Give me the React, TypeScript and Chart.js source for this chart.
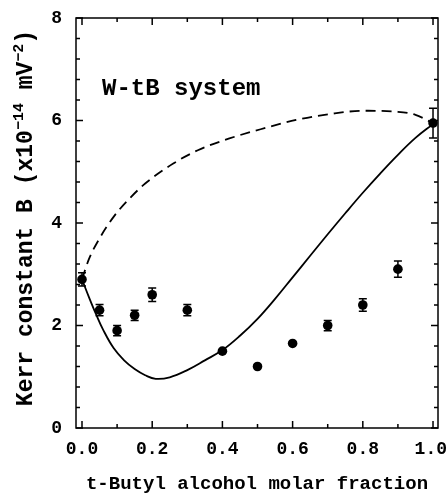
import React, { useEffect, useRef } from "react";
import { Chart, registerables } from "chart.js";

Chart.register(...registerables);

// ---- data ----
const fraction = [0, 0.05, 0.1, 0.15, 0.2, 0.3, 0.4, 0.5, 0.6, 0.7, 0.8, 0.9, 1.0];
const kerrB = [2.9, 2.3, 1.9, 2.2, 2.6, 2.3, 1.5, 1.2, 1.65, 2.0, 2.4, 3.1, 5.95];
const kerrErr = [0.13, 0.11, 0.1, 0.1, 0.13, 0.11, 0, 0, 0, 0.1, 0.12, 0.16, 0.29];

const solidX = [0, 0.02, 0.04, 0.06, 0.09, 0.12, 0.15, 0.18, 0.21, 0.25, 0.3, 0.35, 0.4, 0.45, 0.5, 0.55, 0.6, 0.65, 0.7, 0.75, 0.8, 0.85, 0.9, 0.95, 1.0];
const solidY = [2.9, 2.55, 2.22, 1.92, 1.56, 1.32, 1.15, 1.03, 0.96, 0.99, 1.13, 1.32, 1.52, 1.8, 2.13, 2.52, 2.94, 3.36, 3.78, 4.19, 4.59, 4.97, 5.33, 5.66, 5.93];

const dashX = [0, 0.02, 0.05, 0.09, 0.14, 0.18, 0.26, 0.33, 0.42, 0.52, 0.61, 0.71, 0.8, 0.9, 0.95, 1.0];
const dashY = [2.9, 3.3, 3.7, 4.12, 4.51, 4.77, 5.16, 5.42, 5.65, 5.85, 6.01, 6.13, 6.19, 6.17, 6.11, 5.95];

const xTickValues = [0, 0.2, 0.4, 0.6, 0.8, 1.0];
const xTickLabels = ["0.0", "0.2", "0.4", "0.6", "0.8", "1.0"];
const xMinorValues = [0.1, 0.3, 0.5, 0.7, 0.9];
const yTickValues = [0, 2, 4, 6, 8];
const yMinorValues = [0.4, 0.8, 1.2, 1.6, 2.4, 2.8, 3.2, 3.6, 4.4, 4.8, 5.2, 5.6, 6.4, 6.8, 7.2, 7.6];

const annotationText = "W-tB system";
const annotationPos = { x: 0.057, y: 6.5 };
const xTitle = "t-Butyl alcohol molar fraction";
const yTitleParts = [
  { t: "Kerr constant B (x10", sup: false },
  { t: "\u221214", sup: true },
  { t: " mV", sup: false },
  { t: "\u22122", sup: true },
  { t: ")", sup: false },
];

const FONT = "'Liberation Mono', 'DejaVu Sans Mono', monospace";

const decorPlugin = {
  id: "decor",
  afterDatasetsDraw(chart: any) {
    const { ctx, scales } = chart;
    const xs = scales.x;
    const ys = scales.y;
    ctx.save();
    ctx.strokeStyle = "#000";
    ctx.lineWidth = 1.5;
    fraction.forEach((fx, i) => {
      const e = kerrErr[i];
      if (!e) return;
      const px = xs.getPixelForValue(fx);
      const y1 = ys.getPixelForValue(kerrB[i] + e);
      const y2 = ys.getPixelForValue(kerrB[i] - e);
      ctx.beginPath();
      ctx.moveTo(px, y1);
      ctx.lineTo(px, y2);
      ctx.moveTo(px - 4, y1);
      ctx.lineTo(px + 4, y1);
      ctx.moveTo(px - 4, y2);
      ctx.lineTo(px + 4, y2);
      ctx.stroke();
    });
    ctx.restore();
  },
  afterDraw(chart: any) {
    const { ctx, chartArea, scales, width } = chart;
    const xs = scales.x;
    const ys = scales.y;
    const { left, right, top, bottom } = chartArea;
    ctx.save();
    ctx.strokeStyle = "#000";
    ctx.lineWidth = 1.5;
    ctx.strokeRect(left, top, right - left, bottom - top);
    ctx.beginPath();
    const xt = (v: number, len: number) => {
      const p = xs.getPixelForValue(v);
      ctx.moveTo(p, bottom);
      ctx.lineTo(p, bottom - len);
      ctx.moveTo(p, top);
      ctx.lineTo(p, top + len);
    };
    const yt = (v: number, len: number) => {
      const p = ys.getPixelForValue(v);
      ctx.moveTo(left, p);
      ctx.lineTo(left + len, p);
      ctx.moveTo(right, p);
      ctx.lineTo(right - len, p);
    };
    xTickValues.forEach((v) => xt(v, 7));
    xMinorValues.forEach((v) => xt(v, 4));
    yTickValues.forEach((v) => yt(v, 7));
    yMinorValues.forEach((v) => yt(v, 4));
    ctx.stroke();

    ctx.fillStyle = "#000";

    // x tick labels (kept inside the canvas)
    ctx.font = `bold 18px ${FONT}`;
    ctx.textAlign = "center";
    ctx.textBaseline = "middle";
    xTickValues.forEach((v, i) => {
      const w = ctx.measureText(xTickLabels[i]).width;
      const px = Math.min(xs.getPixelForValue(v), width - w / 2 - 1);
      ctx.fillText(xTickLabels[i], px, bottom + 21);
    });

    ctx.font = `bold 24px ${FONT}`;
    ctx.textAlign = "left";
    ctx.textBaseline = "alphabetic";
    ctx.fillText(annotationText, xs.getPixelForValue(annotationPos.x), ys.getPixelForValue(annotationPos.y));

    ctx.font = `bold 19px ${FONT}`;
    ctx.textAlign = "center";
    ctx.fillText(xTitle, (left + right) / 2, 489);

    const mainFont = `bold 23px ${FONT}`;
    const supFont = `bold 15px ${FONT}`;
    let total = 0;
    const widths = yTitleParts.map((p) => {
      ctx.font = p.sup ? supFont : mainFont;
      const w = ctx.measureText(p.t).width;
      total += w;
      return w;
    });
    ctx.translate(32, 218);
    ctx.rotate(-Math.PI / 2);
    ctx.textAlign = "left";
    let u = -total / 2;
    yTitleParts.forEach((p, i) => {
      ctx.font = p.sup ? supFont : mainFont;
      ctx.fillText(p.t, u, p.sup ? -9 : 0);
      u += widths[i];
    });
    ctx.restore();
  },
};

export default function App() {
  const ref = useRef<HTMLCanvasElement>(null);
  useEffect(() => {
    const canvas = ref.current!;
    const yTickFont = { family: FONT, weight: "bold" as const, size: 18 };
    const chart = new Chart(canvas, {
      type: "scatter",
      data: {
        datasets: [
          {
            type: "line",
            data: solidX.map((x, i) => ({ x, y: solidY[i] })),
            borderColor: "#000",
            borderWidth: 1.8,
            pointRadius: 0,
            tension: 0.4,
            fill: false,
          } as any,
          {
            type: "line",
            data: dashX.map((x, i) => ({ x, y: dashY[i] })),
            borderColor: "#000",
            borderWidth: 1.8,
            borderDash: [10, 6],
            pointRadius: 0,
            tension: 0.4,
            cubicInterpolationMode: "monotone",
            fill: false,
          } as any,
          {
            type: "scatter",
            data: fraction.map((x, i) => ({ x, y: kerrB[i] })),
            pointRadius: 4.8,
            pointBackgroundColor: "#000",
            pointBorderColor: "#000",
            pointBorderWidth: 0,
          } as any,
        ],
      },
      options: {
        responsive: false,
        animation: false,
        layout: { padding: { left: 0, top: 18, right: 10, bottom: 0 } },
        plugins: { legend: { display: false }, tooltip: { enabled: false } },
        scales: {
          x: {
            type: "linear",
            min: -0.0171,
            max: 1.0142,
            grid: { display: false, drawTicks: false },
            border: { display: false },
            afterBuildTicks: (s: any) => {
              s.ticks = xTickValues.map((v) => ({ value: v }));
            },
            afterFit: (s: any) => {
              s.height = 66;
              s.paddingLeft = 0;
              s.paddingRight = 0;
            },
            ticks: { display: false },
          },
          y: {
            type: "linear",
            min: 0,
            max: 8,
            grid: { display: false, drawTicks: false },
            border: { display: false },
            afterBuildTicks: (s: any) => {
              s.ticks = yTickValues.map((v) => ({ value: v }));
            },
            afterFit: (s: any) => {
              s.width = 76;
              s.paddingTop = 0;
              s.paddingBottom = 0;
            },
            ticks: {
              font: yTickFont,
              color: "#000",
              padding: 14,
              autoSkip: false,
              callback: (v: any) => String(v),
            },
          },
        },
      } as any,
      plugins: [decorPlugin],
    });
    return () => chart.destroy();
  }, []);
  return (
    <div style={{ position: "absolute", left: 0, top: 0, width: 448, height: 494, background: "#fff" }}>
      <canvas ref={ref} width={448} height={494} style={{ display: "block" }} />
    </div>
  );
}
